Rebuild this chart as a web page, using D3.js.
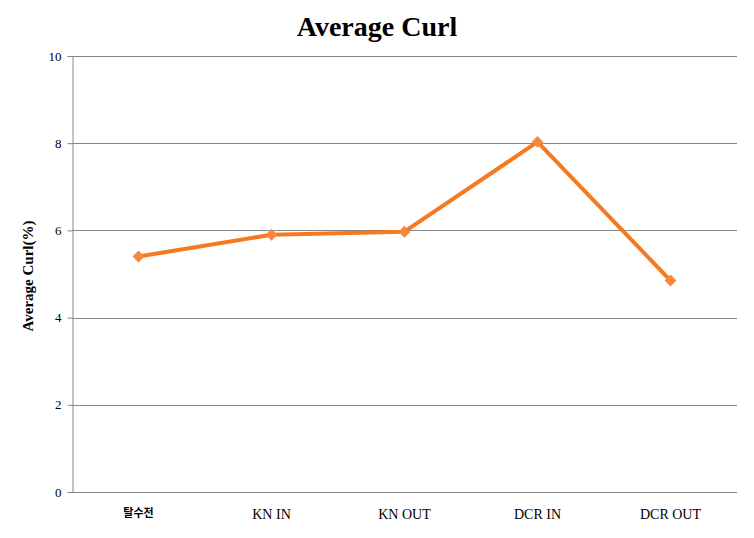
<!DOCTYPE html>
<html><head><meta charset="utf-8">
<script src="https://cdn.jsdelivr.net/npm/d3@7"></script>
<style>body{margin:0;background:#fff}</style>
</head><body>
<script>
const categories = ["탈수전", "KN IN", "KN OUT", "DCR IN", "DCR OUT"];
const values = [5.4, 5.9, 5.97, 8.03, 4.85];
const yTicks = [0, 2, 4, 6, 8, 10];
const title = "Average Curl";
const yLabel = "Average Curl(%)";

const W = 754, H = 538;
const m = {left: 72, right: 17, top: 56, bottom: 46};
const svg = d3.select("body").append("svg").attr("width", W).attr("height", H);
const x = d3.scaleBand().domain(categories).range([m.left, W - m.right]);
const y = d3.scaleLinear().domain([0, 10]).range([H - m.bottom, m.top]);
const serif = "'Liberation Serif', 'Times New Roman', serif";

svg.append("text").attr("x", 377).attr("y", 36).attr("text-anchor", "middle")
  .attr("font-family", serif).attr("font-weight", "bold").attr("font-size", 28).text(title);

// gridlines
svg.append("g").selectAll("line").data(yTicks).join("line")
  .attr("x1", m.left).attr("x2", W - m.right)
  .attr("y1", d => Math.round(y(d)) + 0.5).attr("y2", d => Math.round(y(d)) + 0.5)
  .attr("stroke", "#868686").attr("stroke-width", 1);

const ya = svg.append("g").attr("transform", `translate(${m.left + 0.5},0)`)
  .call(d3.axisLeft(y).tickValues(yTicks).tickSize(5).tickPadding(6).tickFormat(d3.format("d")));
ya.select(".domain").attr("stroke", "#868686");
ya.selectAll(".tick line").attr("stroke", "#868686");
ya.selectAll("text").attr("font-family", serif).attr("font-size", 13).attr("fill", "#000");

const xa = svg.append("g").attr("transform", `translate(0,${H - m.bottom})`)
  .call(d3.axisBottom(x).tickSize(0).tickPadding(17));
xa.select(".domain").remove();
xa.selectAll("text").attr("font-family", (d, i) => i === 0 ? "'Noto Sans CJK KR', sans-serif" : serif)
  .attr("font-weight", (d, i) => i === 0 ? "bold" : "normal")
  .attr("font-size", (d, i) => i === 0 ? 11 : 14).attr("fill", "#000");

svg.append("text").attr("transform", "translate(33,276) rotate(-90)").attr("text-anchor", "middle")
  .attr("font-family", serif).attr("font-weight", "bold").attr("font-size", 15).text(yLabel);

const pts = categories.map((c, i) => [x(c) + x.bandwidth() / 2, y(values[i])]);
svg.append("path").datum(pts).attr("d", d3.line()).attr("fill", "none")
  .attr("stroke", "#F57A1F").attr("stroke-width", 4).attr("stroke-linejoin", "round");
svg.append("g").selectAll("path").data(pts).join("path")
  .attr("transform", d => `translate(${d[0]},${d[1]})`)
  .attr("d", d3.symbol().type(d3.symbolDiamond2).size(90))
  .attr("fill", "#F7863F");
</script>
</body></html>
